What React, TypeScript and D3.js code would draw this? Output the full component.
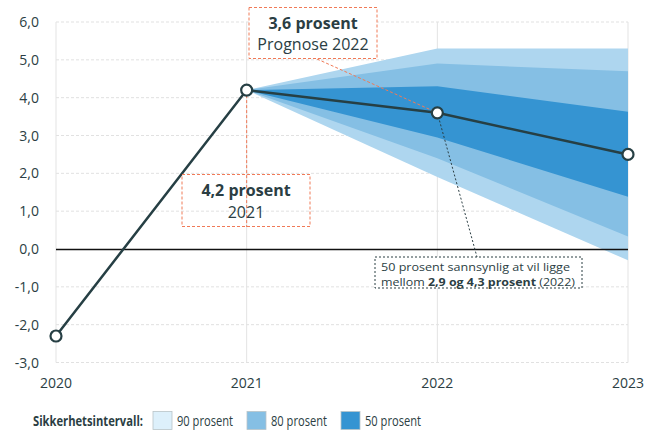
import React from "react";
import * as d3 from "d3";

const years = [2020, 2021, 2022, 2023];
const values = [-2.3, 4.2, 3.6, 2.5];
const bandYears = [2021, 2022, 2023];
const band90Low = [4.2, 1.9, -0.3];
const band90High = [4.2, 5.3, 5.3];
const band80Low = [4.2, 2.4, 0.33];
const band80High = [4.2, 4.9, 4.7];
const band50Low = [4.2, 2.95, 1.38];
const band50High = [4.2, 4.3, 3.63];
const yTicks = [6, 5, 4, 3, 2, 1, 0, -1, -2, -3];
const legendItems = ["90 prosent", "80 prosent", "50 prosent"];

const W = 648, H = 430;
const FONT = "'Open Sans', 'Noto Sans', sans-serif";
const TEXT = "#2b3e43";
const LINE = "#263f44";

export default function App() {
  const x = d3.scaleLinear().domain([2020, 2023]).range([56, 628]);
  const y = d3.scaleLinear().domain([-3, 6]).range([362.5, 22]);
  const fmt = (v: number) => d3.format(".1f")(v).replace(".", ",").replace("−", "-");

  const area = (lo: number[], hi: number[]) =>
    d3.area<number>()
      .x((_, i) => x(bandYears[i]))
      .y0((_, i) => y(lo[i]))
      .y1((_, i) => y(hi[i]))(bandYears)!;

  const line = d3.line<number>().x((_, i) => x(years[i])).y((v) => y(v))(values)!;

  const legendColors = ["#ddf0fb", "#85bfe4", "#3594d2"];
  const legendX = [153, 247, 341];

  return (
    <svg width={W} height={H} style={{ position: "absolute", left: 0, top: 0 }} fontFamily={FONT}>
      <rect width={W} height={H} fill="#fff" />
      {yTicks.map((t) => (
        t !== 0 ? (
          <line key={"g" + t} x1={x(2020)} x2={x(2023)} y1={y(t)} y2={y(t)} stroke="#d9d9d9" strokeDasharray="3,2" strokeWidth={0.8} />
        ) : null
      ))}
      {years.map((yr) => (
        <line key={"v" + yr} x1={x(yr)} x2={x(yr)} y1={y(6)} y2={y(-3)} stroke="#e3e3e3" strokeWidth={1} />
      ))}
      <path d={area(band90Low, band90High)} fill="#aed6ef" />
      <path d={area(band80Low, band80High)} fill="#85bfe4" />
      <path d={area(band50Low, band50High)} fill="#3594d2" />
      <line x1={x(2020)} x2={x(2023)} y1={249.5} y2={249.5} stroke="#111" strokeWidth={1.5} />
      {yTicks.map((t) => (
        <text key={"t" + t} x={39} y={y(t) + 5} textAnchor="end" fontSize={14} fill={TEXT}>{fmt(t)}</text>
      ))}
      {years.map((yr) => (
        <text key={"x" + yr} x={x(yr)} y={388} textAnchor="middle" fontSize={14} fill={TEXT}>{yr}</text>
      ))}
      <line x1={317} y1={59} x2={x(2022)} y2={y(3.6)} stroke="#f07a57" strokeDasharray="3,2" strokeWidth={1} />
      <line x1={x(2021)} y1={y(4.2)} x2={x(2021)} y2={227} stroke="#f07a57" strokeDasharray="3,2" strokeWidth={1} />
      <line x1={x(2022)} y1={y(3.6)} x2={477} y2={257} stroke="#2b3e43" strokeDasharray="2,2" strokeWidth={1} />
      <path d={line} fill="none" stroke={LINE} strokeWidth={2.5} />
      {values.map((v, i) => (
        <circle key={"c" + i} cx={x(years[i])} cy={y(v)} r={5.5} fill="#fff" stroke={LINE} strokeWidth={2.2} />
      ))}
      <rect x={249} y={7.5} width={128} height={51} fill="#fff" stroke="#f07a57" strokeDasharray="3,2" strokeWidth={1} />
      <text x={313} y={29} textAnchor="middle" fontSize={16} fontWeight={700} fill={TEXT}>3,6 prosent</text>
      <text x={313} y={50} textAnchor="middle" fontSize={16} fill={TEXT}>Prognose 2022</text>
      <rect x={182} y={174.5} width={128} height={52} fill="none" stroke="#f07a57" strokeDasharray="3,2" strokeWidth={1} />
      <text x={246} y={196} textAnchor="middle" fontSize={16} fontWeight={700} fill={TEXT}>4,2 prosent</text>
      <text x={246} y={218} textAnchor="middle" fontSize={16} fill={TEXT}>2021</text>
      <rect x={375} y={257} width={207} height={31} fill="#fff" stroke="#2b3e43" strokeDasharray="2,2" strokeWidth={1} />
      <text x={381} y={271} fontSize={11} fill={TEXT} textLength={189} lengthAdjust="spacingAndGlyphs">50 prosent sannsynlig at vil ligge</text>
      <text x={381} y={285.5} fontSize={11} fill={TEXT} textLength={194} lengthAdjust="spacingAndGlyphs">
        mellom <tspan fontWeight={700}>2,9 og 4,3 prosent</tspan> (2022)
      </text>
      <text x={33} y={426} fontSize={13.5} fontWeight={700} fill={TEXT} textLength={110} lengthAdjust="spacingAndGlyphs">Sikkerhetsintervall:</text>
      {legendItems.map((lbl, i) => (
        <g key={lbl}>
          <rect x={legendX[i]} y={411.5} width={19} height={18} fill={legendColors[i]} stroke="#b9c4c8" strokeWidth={0.8} />
          <text x={legendX[i] + 24} y={426} fontSize={14} fill={TEXT} textLength={56} lengthAdjust="spacingAndGlyphs">{lbl}</text>
        </g>
      ))}
    </svg>
  );
}
